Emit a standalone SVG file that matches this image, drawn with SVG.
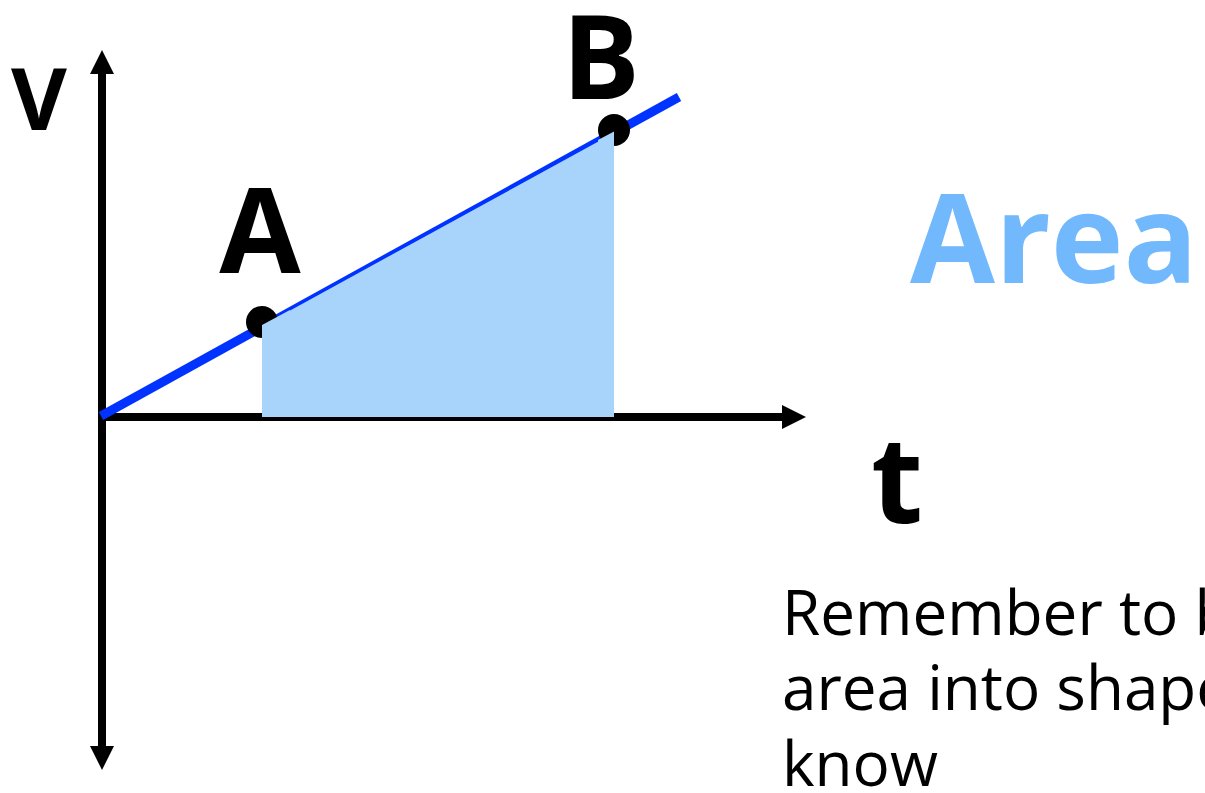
<svg xmlns="http://www.w3.org/2000/svg" width="1205" height="793" viewBox="0 0 1205 793">
<style>
.lbl{font-family:"Open Sans","Liberation Sans",sans-serif;font-weight:bold;fill:#000}
.note{font-family:"Open Sans","Liberation Sans",sans-serif;font-size:62px;fill:#000}
.axis{stroke:#000;stroke-width:8;fill:none}
</style>
<defs>
<marker id="ah" viewBox="0 0 24 24" refX="0" refY="12" markerWidth="24" markerHeight="24" markerUnits="userSpaceOnUse" orient="auto">
<path d="M0,0 L24,12 L0,24 Z" fill="#000"/>
</marker>
</defs>
<rect width="1205" height="793" fill="#fff"/>
<g id="axes">
<line class="axis" x1="102" y1="417" x2="102" y2="74" marker-end="url(#ah)"/>
<line class="axis" x1="102" y1="417" x2="102" y2="746" marker-end="url(#ah)"/>
<line class="axis" x1="98" y1="417" x2="782" y2="417" marker-end="url(#ah)"/>
</g>
<g id="connectors">
<line x1="101" y1="416" x2="679" y2="97" stroke="#0033ff" stroke-width="9"/>
</g>
<g id="area-shade">
<polygon points="262,417 262,325 614,132 614,417" fill="#a8d4fc"/>
<line x1="262" y1="325" x2="614" y2="132" stroke="#0033ff" stroke-width="1.5"/>
</g>
<g id="pointA">
<circle cx="262" cy="322" r="16" fill="#000"/>
<polygon points="262,417 262,325 290,310 290,417" fill="#a8d4fc"/>
<text class="lbl" x="260" y="273" font-size="118" text-anchor="middle">A</text>
</g>
<g id="pointB">
<circle cx="614" cy="130" r="16" fill="#000"/>
<polygon points="598,140 614,131.5 614,160 598,160" fill="#a8d4fc"/>
<text class="lbl" x="601" y="99" font-size="116" text-anchor="middle">B</text>
</g>
<g id="labelV">
<text class="lbl" x="39" y="130" font-size="86" text-anchor="middle">V</text>
</g>
<g id="labelT">
<text class="lbl" x="897" y="523" font-size="120" text-anchor="middle">t</text>
</g>
<g id="title">
<text x="910" y="283" font-family="Open Sans, Liberation Sans, sans-serif" font-weight="bold" font-size="124" fill="#72b8fc" textLength="288" lengthAdjust="spacingAndGlyphs">Area</text>
</g>
<g id="note">
<text class="note" x="782" y="635">Remember to b</text>
<text class="note" x="782" y="710">area into shape</text>
<text class="note" x="782" y="786">know</text>
</g>
</svg>
